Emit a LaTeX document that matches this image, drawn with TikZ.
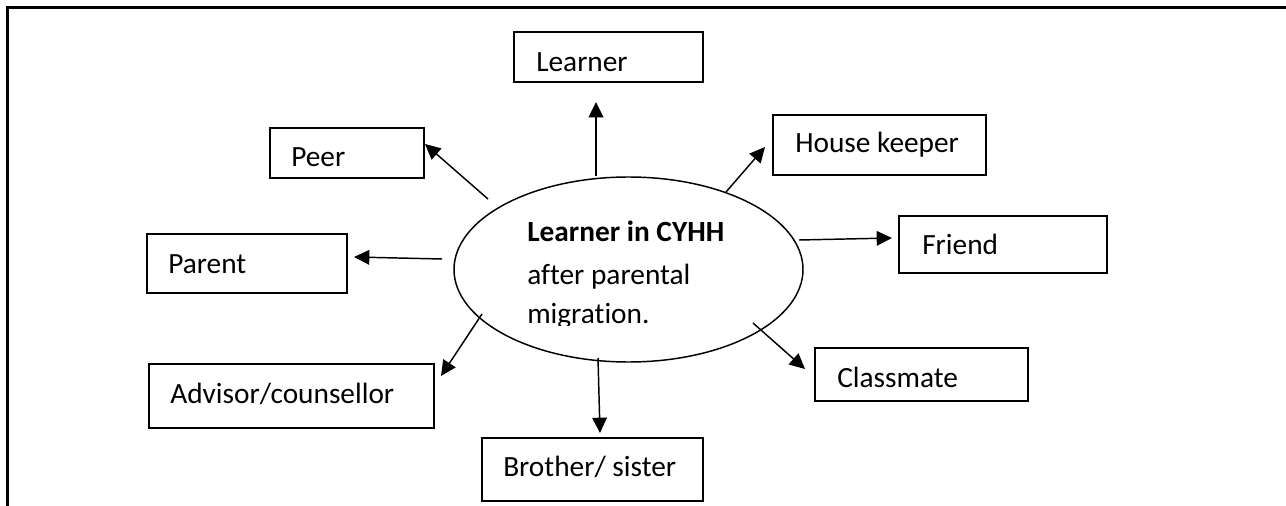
\documentclass[tikz,border=0pt]{standalone}
\usepackage{fontspec}
\setmainfont{Carlito}[Ligatures=NoCommon]
\usetikzlibrary{arrows.meta,fit,shapes.geometric}
\begin{document}
\begin{tikzpicture}[x=0.75pt,y=-0.75pt,
  box/.style={draw,rectangle,line width=1.3pt,inner sep=0pt},
  lbl/.style={anchor=base west,inner sep=0pt,font=\fontsize{22}{30}\selectfont},
  arr/.style={line width=1.1pt,-{Triangle[length=11.5pt,width=11pt]}}]
\useasboundingbox (0,0) rectangle (1286,506);

% page frame: rule along the top and down the left side
\coordinate (frame-tr) at (1286,7.5);
\coordinate (frame-tl) at (7.5,7.5);
\coordinate (frame-bl) at (7.5,506);
\draw[line width=1.6pt] (frame-tr) -- (frame-tl) -- (frame-bl);

% central ellipse
\node[draw,ellipse,line width=1.1pt,inner sep=0pt,
      minimum width=349*0.75pt,minimum height=185*0.75pt] (core) at (628.5,269.5) {};
\node[lbl,font=\fontsize{22}{30}\selectfont\bfseries] (core-t1) at (527,242) {Learner in CYHH};
\node[lbl] (core-t2) at (527,284) {after parental};
\begin{scope}
  \clip (500,290) rectangle (820,325);
  \node[lbl] (core-t3) at (527,323) {migration.};
\end{scope}

% surrounding roles
\node[box,fit={(514,32) (703,82)}] (learner) {};
\node[lbl] (learner-t) at (536,72) {Learner};

\node[box,fit={(270,128) (424,178)}] (peer) {};
\node[lbl] (peer-t) at (291,167) {Peer};

\node[box,fit={(147,234) (347,293)}] (parent) {};
\node[lbl] (parent-t) at (168,273) {Parent};

\node[box,fit={(149,364) (434,428)}] (advisor) {};
\node[lbl] (advisor-t) at (170,403) {Advisor/counsellor};

\node[box,fit={(773,115) (986,175)}] (keeper) {};
\node[lbl] (keeper-t) at (795,153) {House keeper};

\node[box,fit={(899,216) (1107,273)}] (friend) {};
\node[lbl] (friend-t) at (922,254) {Friend};

\node[box,fit={(815,348) (1028,401)}] (classmate) {};
\node[lbl] (classmate-t) at (837,387) {Classmate};

\node[box,fit={(482,438) (703,501)}] (sibling) {};
\node[lbl] (sibling-t) at (503,476) {Brother/ sister};

% arrow ends
\coordinate (s-learner) at (596,176);   \coordinate (e-learner) at (596,102);
\coordinate (s-peer) at (488,199);      \coordinate (e-peer) at (425,144);
\coordinate (s-parent) at (442,259);    \coordinate (e-parent) at (354,257);
\coordinate (s-advisor) at (482,314);   \coordinate (e-advisor) at (441,376);
\coordinate (s-keeper) at (726,192);    \coordinate (e-keeper) at (765,147);
\coordinate (s-friend) at (799,240);    \coordinate (e-friend) at (892,238);
\coordinate (s-classmate) at (753,323); \coordinate (e-classmate) at (805,369);
\coordinate (s-sibling) at (598,358);   \coordinate (e-sibling) at (600,433);

\draw[arr] (s-learner) -- (e-learner);
\draw[arr] (s-peer) -- (e-peer);
\draw[arr] (s-parent) -- (e-parent);
\draw[arr] (s-advisor) -- (e-advisor);
\draw[arr] (s-keeper) -- (e-keeper);
\draw[arr] (s-friend) -- (e-friend);
\draw[arr] (s-classmate) -- (e-classmate);
\draw[arr] (s-sibling) -- (e-sibling);
\end{tikzpicture}
\end{document}
